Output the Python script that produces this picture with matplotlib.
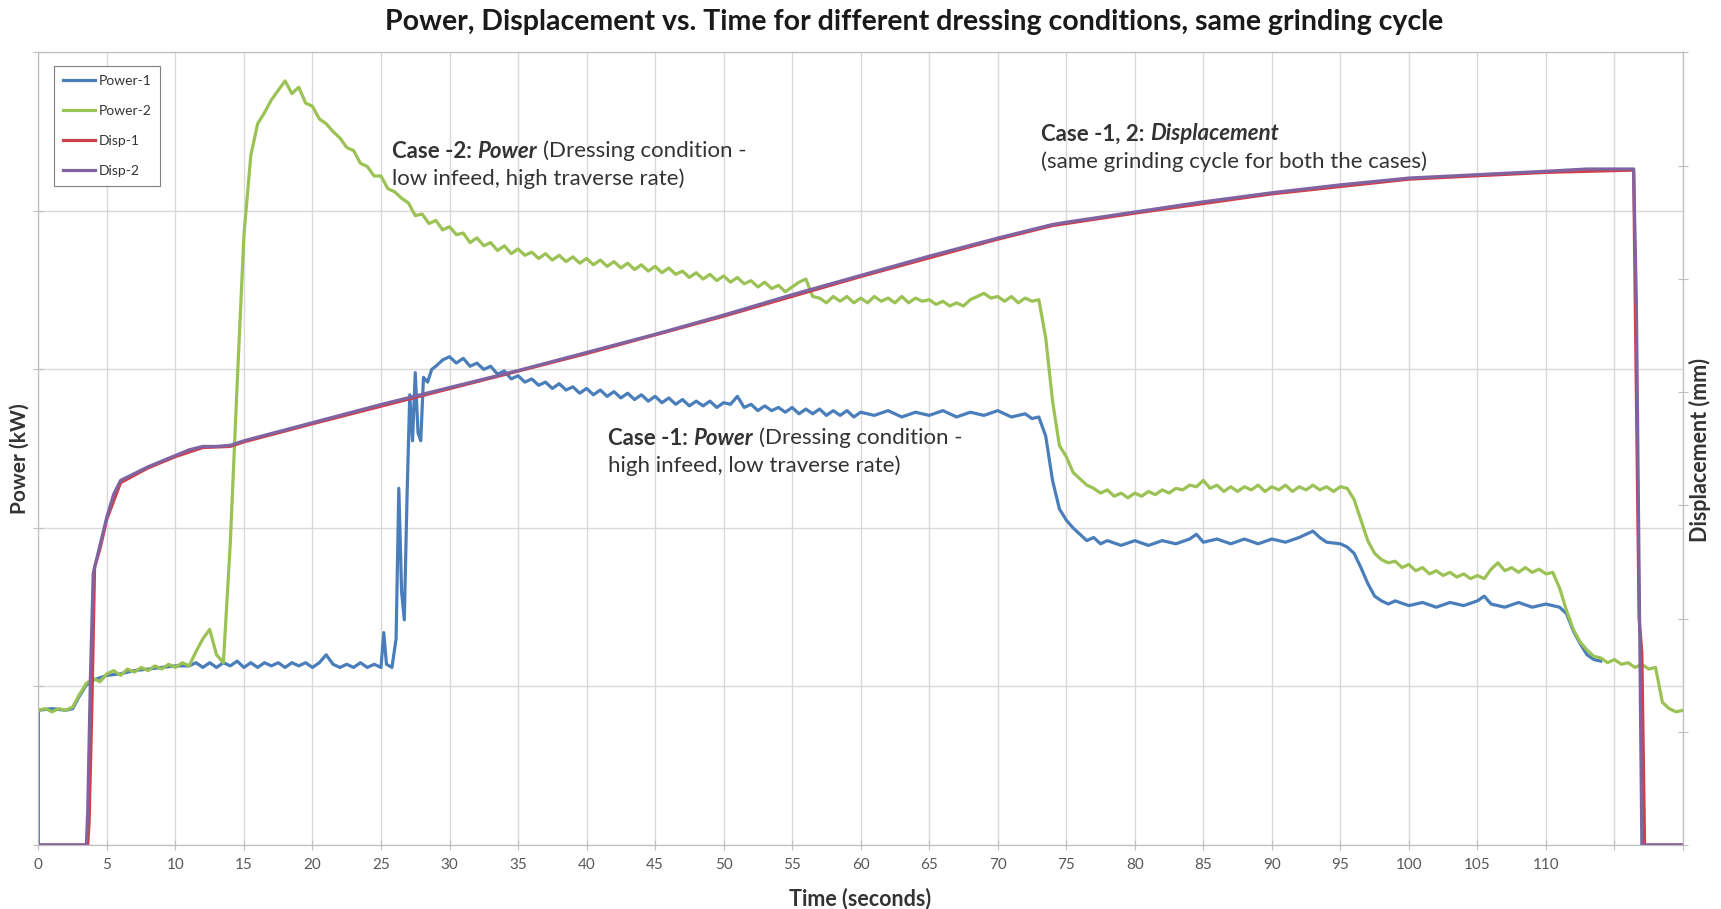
import numpy as np
import matplotlib
matplotlib.use("Agg")
import matplotlib.pyplot as plt

plt.rcParams["font.family"] = ["Lato", "DejaVu Sans"]

# ---- data ----
# Power-2: sampled every 0.5 s from 0 to 120 s (arbitrary kW scale, 0-5)
power2_time = np.arange(0, 120.5, 0.5)
power2_kw = [
    0.85, 0.86, 0.84, 0.86, 0.85, 0.87, 0.95, 1.02, 1.05, 1.03,
    1.08, 1.10, 1.07, 1.11, 1.09, 1.12, 1.10, 1.13, 1.11, 1.14,
    1.12, 1.15, 1.13, 1.22, 1.30, 1.36, 1.20, 1.15, 1.90, 2.90,
    3.85, 4.35, 4.55, 4.62, 4.70, 4.76, 4.82, 4.74, 4.78, 4.68,
    4.66, 4.58, 4.55, 4.50, 4.46, 4.40, 4.38, 4.30, 4.28, 4.22,
    4.22, 4.14, 4.12, 4.08, 4.05, 3.97, 3.98, 3.92, 3.94, 3.88,
    3.90, 3.85, 3.86, 3.80, 3.83, 3.78, 3.80, 3.75, 3.78, 3.73,
    3.76, 3.72, 3.74, 3.70, 3.73, 3.69, 3.72, 3.68, 3.71, 3.67,
    3.70, 3.66, 3.69, 3.65, 3.68, 3.64, 3.67, 3.63, 3.66, 3.62,
    3.65, 3.61, 3.64, 3.60, 3.62, 3.58, 3.61, 3.57, 3.60, 3.56,
    3.59, 3.55, 3.58, 3.54, 3.56, 3.52, 3.55, 3.51, 3.53, 3.49,
    3.52, 3.55, 3.57, 3.46, 3.45, 3.42, 3.46, 3.43, 3.46, 3.42,
    3.45, 3.42, 3.46, 3.43, 3.45, 3.42, 3.46, 3.42, 3.45, 3.43,
    3.44, 3.41, 3.43, 3.40, 3.42, 3.40, 3.44, 3.46, 3.48, 3.45,
    3.46, 3.43, 3.46, 3.42, 3.45, 3.43, 3.44, 3.20, 2.80, 2.52,
    2.45, 2.35, 2.31, 2.27, 2.25, 2.22, 2.24, 2.20, 2.22, 2.19,
    2.22, 2.20, 2.23, 2.21, 2.24, 2.22, 2.25, 2.24, 2.27, 2.26,
    2.30, 2.25, 2.27, 2.23, 2.26, 2.23, 2.26, 2.24, 2.27, 2.23,
    2.26, 2.24, 2.27, 2.23, 2.26, 2.24, 2.27, 2.24, 2.26, 2.23,
    2.26, 2.25, 2.18, 2.05, 1.92, 1.84, 1.80, 1.78, 1.79, 1.75,
    1.77, 1.73, 1.75, 1.71, 1.73, 1.70, 1.72, 1.69, 1.71, 1.68,
    1.70, 1.68, 1.74, 1.78, 1.73, 1.75, 1.72, 1.75, 1.72, 1.74,
    1.71, 1.72, 1.62, 1.48, 1.36, 1.28, 1.23, 1.19, 1.18, 1.15,
    1.17, 1.14, 1.15, 1.12, 1.14, 1.11, 1.12, 0.90, 0.86, 0.84,
    0.85,
]

power1_time = [
    0, 0, 1, 2, 2.5, 3, 3.5, 4, 5, 6, 7, 8, 9, 10, 11, 11.5, 12, 12.5, 13, 13.5,
    14, 14.5, 15, 15.5, 16, 16.5, 17, 17.5, 18, 18.5, 19, 19.5, 20, 20.5, 21, 21.5,
    22, 22.5, 23, 23.5, 24, 24.5, 25, 25.2, 25.4, 25.8, 26.1, 26.3, 26.5, 26.7,
    26.9, 27.1, 27.3, 27.5, 27.7, 27.9, 28.1, 28.4, 28.7, 29, 29.5, 30, 30.5, 31,
    31.5, 32, 32.5, 33, 33.5, 34, 34.5, 35, 35.5, 36, 36.5, 37, 37.5, 38, 38.5, 39,
    39.5, 40, 40.5, 41, 41.5, 42, 42.5, 43, 43.5, 44, 44.5, 45, 45.5, 46, 46.5, 47,
    47.5, 48, 48.5, 49, 49.5, 50, 50.5, 51, 51.5, 52, 52.5, 53, 53.5, 54, 54.5, 55,
    55.5, 56, 56.5, 57, 57.5, 58, 58.5, 59, 59.5, 60, 61, 62, 63, 64, 65, 66, 67,
    68, 69, 70, 71, 72, 72.5, 73, 73.5, 74, 74.5, 75, 75.5, 76, 76.5, 77, 77.5, 78,
    79, 80, 81, 82, 83, 84, 84.5, 85, 86, 87, 88, 89, 90, 91, 92, 93, 93.5, 94, 95,
    95.5, 96, 96.5, 97, 97.5, 98, 98.5, 99, 100, 101, 102, 103, 104, 105, 105.5,
    106, 107, 108, 109, 110, 111, 111.5, 112, 112.5, 113, 113.5, 114,
]
power1_kw = [
    0.00, 0.85, 0.86, 0.85, 0.86, 0.94, 1.01, 1.04, 1.07, 1.08, 1.10, 1.11, 1.12,
    1.13, 1.13, 1.15, 1.12, 1.15, 1.12, 1.15, 1.13, 1.16, 1.12, 1.15, 1.12, 1.15,
    1.13, 1.15, 1.12, 1.15, 1.13, 1.15, 1.12, 1.15, 1.20, 1.14, 1.12, 1.14, 1.12,
    1.15, 1.12, 1.14, 1.12, 1.34, 1.14, 1.12, 1.30, 2.25, 1.60, 1.42, 2.20, 2.84,
    2.55, 2.98, 2.60, 2.55, 2.95, 2.92, 3.00, 3.02, 3.06, 3.08, 3.04, 3.07, 3.02,
    3.04, 3.00, 3.02, 2.97, 2.99, 2.94, 2.96, 2.92, 2.94, 2.90, 2.92, 2.88, 2.91,
    2.87, 2.89, 2.85, 2.88, 2.84, 2.87, 2.83, 2.86, 2.82, 2.85, 2.81, 2.84, 2.80,
    2.83, 2.79, 2.82, 2.78, 2.81, 2.77, 2.80, 2.77, 2.80, 2.76, 2.79, 2.78, 2.83,
    2.76, 2.78, 2.74, 2.77, 2.74, 2.76, 2.73, 2.76, 2.72, 2.75, 2.72, 2.75, 2.71,
    2.74, 2.71, 2.74, 2.70, 2.73, 2.71, 2.74, 2.70, 2.73, 2.71, 2.74, 2.70, 2.73,
    2.71, 2.74, 2.70, 2.72, 2.69, 2.70, 2.58, 2.30, 2.12, 2.05, 2.00, 1.96, 1.92,
    1.94, 1.90, 1.92, 1.89, 1.92, 1.89, 1.92, 1.90, 1.93, 1.96, 1.91, 1.93, 1.90,
    1.93, 1.90, 1.93, 1.91, 1.94, 1.98, 1.94, 1.91, 1.90, 1.88, 1.84, 1.75, 1.65,
    1.57, 1.54, 1.52, 1.54, 1.51, 1.53, 1.50, 1.53, 1.51, 1.54, 1.57, 1.52, 1.50,
    1.53, 1.50, 1.52, 1.50, 1.46, 1.35, 1.27, 1.20, 1.17, 1.16,
]

# displacement (right axis, 0-7 mm scale)
disp1_time = [0, 3.6, 3.7, 3.9, 4.1, 4.5, 5, 6, 8, 10, 12, 14, 15, 20, 30, 40, 50,
              60, 70, 74, 80, 90, 100, 110, 116.4, 116.8, 117.0, 117.2, 120]
disp1_mm = [0, 0, 0.2, 1.2, 2.45, 2.62, 2.88, 3.20, 3.33, 3.43, 3.51, 3.52, 3.56,
            3.72, 4.03, 4.34, 4.67, 5.02, 5.35, 5.47, 5.58, 5.75, 5.88, 5.94, 5.96,
            2.0, 1.70, 0.0, 0.0]

disp2_time = [0, 3.5, 3.6, 3.8, 4.0, 4.5, 5, 5.5, 6, 7, 8, 9, 10, 11, 12, 13, 14,
              15, 20, 25, 30, 35, 40, 45, 50, 55, 60, 65, 70, 74, 75, 80, 85, 90, 95,
              100, 105, 110, 113, 116.4, 116.6, 117.0, 120]
disp2_mm = [0, 0, 0.3, 1.5, 2.40, 2.65, 2.90, 3.10, 3.22, 3.28, 3.34, 3.39, 3.44,
            3.49, 3.52, 3.52, 3.53, 3.57, 3.73, 3.89, 4.04, 4.19, 4.35, 4.51, 4.68,
            4.86, 5.03, 5.20, 5.36, 5.48, 5.50, 5.59, 5.68, 5.76, 5.83, 5.89, 5.92,
            5.95, 5.97, 5.97, 4.80, 0.0, 0.0]

x_ticks = list(range(0, 125, 5))
x_tick_labels = [str(t) if t <= 110 else "" for t in x_ticks]

BLUE = "#4a7ebb"
GREEN = "#9bc254"
RED = "#d0404a"
PURPLE = "#8064a2"
GRID = "#d9d9d9"
AXIS = "#bfbfbf"
TEXT = "#333333"

fig = plt.figure(figsize=(17.21, 9.09), dpi=100)
ax = fig.add_axes([0.0223, 0.0704, 0.9556, 0.872])

l1, = ax.plot(power1_time, power1_kw, color=BLUE, lw=2.3, label="Power-1")
l2, = ax.plot(power2_time, power2_kw, color=GREEN, lw=2.3, label="Power-2")
ax.set_xlim(0, 120)
ax.set_ylim(0, 5)
ax.set_xticks(x_ticks)
ax.set_xticklabels(x_tick_labels)
ax.set_yticks(range(6))
ax.tick_params(axis="x", direction="inout", length=7, color=AXIS,
               labelcolor="#595959", labelsize=11, pad=6)
ax.tick_params(axis="y", direction="inout", length=7, color=AXIS, labelleft=False)
ax.grid(True, color=GRID, lw=1)
ax.set_axisbelow(True)
for sp in ax.spines.values():
    sp.set_color(AXIS)

ax2 = ax.twinx()
l3, = ax2.plot(disp1_time, disp1_mm, color=RED, lw=2.3, label="Disp-1")
l4, = ax2.plot(disp2_time, disp2_mm, color=PURPLE, lw=2.3, label="Disp-2")
ax2.set_ylim(0, 7)
ax2.set_yticks(range(8))
ax2.tick_params(axis="y", direction="inout", length=7, color=AXIS, labelright=False)
for sp in ax2.spines.values():
    sp.set_color(AXIS)

leg = ax2.legend(handles=[l1, l2, l3, l4], loc="upper left",
                 bbox_to_anchor=(0.0095, 0.983), borderaxespad=0, fontsize=10,
                 labelspacing=1.3, handlelength=2.3, handletextpad=0.25,
                 borderpad=0.65, fancybox=False, framealpha=1, edgecolor="#7f7f7f")
leg.get_frame().set_linewidth(0.8)
for t in leg.get_texts():
    t.set_color(TEXT)

fig.text(0.531, 0.976,
         "Power, Displacement vs. Time for different dressing conditions, same grinding cycle",
         ha="center", va="center", fontsize=20.5, fontweight="bold", color="#1a1a1a")
fig.text(0.4997, 0.012, "Time (seconds)", ha="center", va="center",
         fontsize=15.5, fontweight="bold", color=TEXT)
fig.text(0.0116, 0.495, "Power (kW)", ha="center", va="center", rotation=90,
         fontsize=15, fontweight="bold", color=TEXT)
fig.text(0.988, 0.505, "Displacement (mm)", ha="center", va="center", rotation=90,
         fontsize=15.5, fontweight="bold", color=TEXT)


def rich_line(x_px, y_px, parts, size=16):
    # parts: (text, weight, style); pieces are chained left to right
    prev = None
    for text, weight, style in parts:
        if prev is None:
            prev = fig.text(x_px / 1721, 1 - y_px / 909, text, ha="left", va="center",
                            fontsize=size, fontweight=weight, fontstyle=style, color=TEXT)
        else:
            prev = ax2.annotate(text, xy=(1, 0.5), xycoords=prev, xytext=(4, 0),
                                textcoords="offset points", ha="left", va="center",
                                fontsize=size, fontweight=weight, fontstyle=style,
                                color=TEXT)


rich_line(392, 151, [("Case -2:", "bold", "normal"), ("Power", "bold", "italic"),
                     ("(Dressing condition -", "normal", "normal")])
rich_line(392, 179, [("low infeed, high traverse rate)", "normal", "normal")])

rich_line(1041, 134, [("Case -1, 2:", "bold", "normal"),
                      ("Displacement", "bold", "italic")])
rich_line(1041, 162, [("(same grinding cycle for both the cases)", "normal", "normal")])

rich_line(608, 438, [("Case -1:", "bold", "normal"), ("Power", "bold", "italic"),
                     ("(Dressing condition -", "normal", "normal")])
rich_line(608, 466, [("high infeed, low traverse rate)", "normal", "normal")])

fig.savefig("out.png", dpi=100, facecolor="white")
